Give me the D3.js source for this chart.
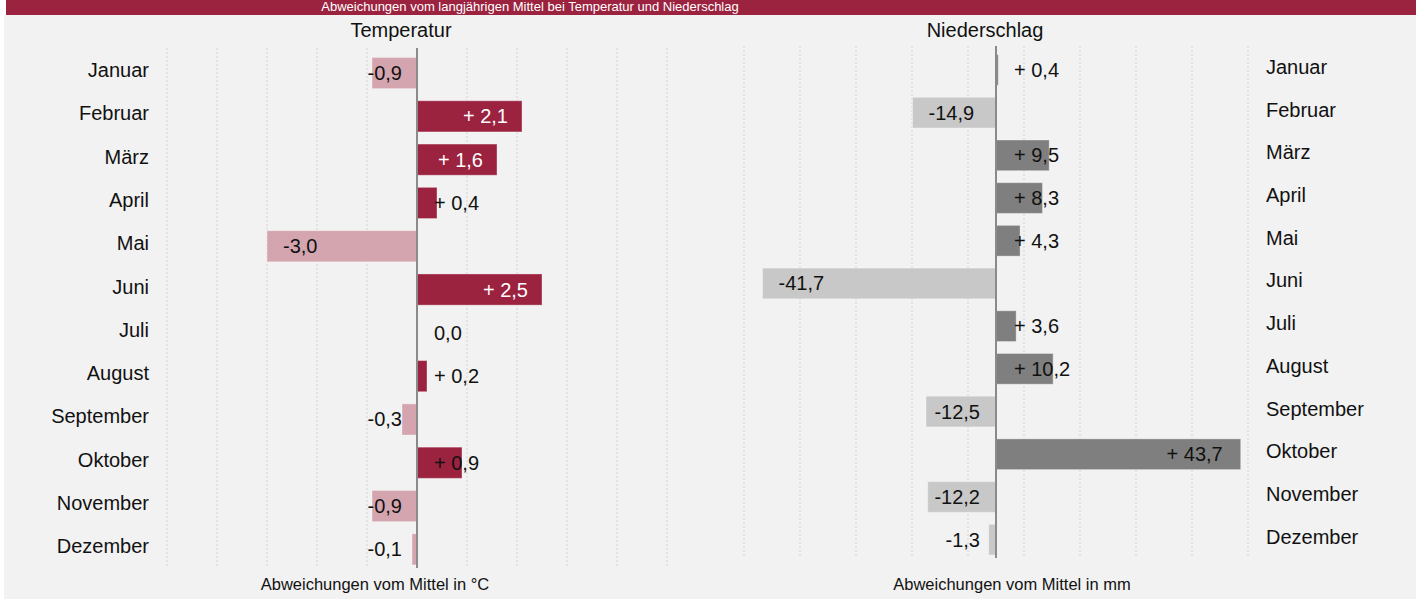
<!DOCTYPE html>
<html>
<head>
<meta charset="utf-8">
<script src="https://cdn.jsdelivr.net/npm/d3@7"></script>
<style>
  body { margin: 0; background: #fff; }
  svg { display: block; font-family: "Liberation Sans", Arial, sans-serif; }
</style>
</head>
<body>
<div id="chart"></div>
<script>
// data
var months = ["Januar", "Februar", "März", "April", "Mai", "Juni", "Juli", "August", "September", "Oktober", "November", "Dezember"];
var temperatur = [-0.9, 2.1, 1.6, 0.4, -3.0, 2.5, 0.0, 0.2, -0.3, 0.9, -0.9, -0.1];
var niederschlag = [0.4, -14.9, 9.5, 8.3, 4.3, -41.7, 3.6, 10.2, -12.5, 43.7, -12.2, -1.3];
var tempTicks = [-5, -4, -3, -2, -1, 0, 1, 2, 3, 4, 5];
var rainTicks = [-45, -35, -25, -15, -5, 5, 15, 25, 35, 45];

var svgWidth = 1416;
var svgHeight = 601;

var svg = d3.select("#chart")
  .append("svg")
  .attr("width", svgWidth)
  .attr("height", svgHeight);

// background + header band
svg.append("rect")
  .attr("x", 4).attr("y", 15)
  .attr("width", svgWidth - 4).attr("height", 584)
  .attr("fill", "#f2f2f2");

svg.append("rect")
  .attr("x", 6).attr("y", 0)
  .attr("width", svgWidth - 6).attr("height", 15)
  .attr("fill", "#9b2340");

// header title (top of it is cut off in the original as well)
svg.append("text")
  .attr("x", 530).attr("y", 11)
  .attr("text-anchor", "middle")
  .attr("font-size", 13)
  .attr("fill", "#fff")
  .text("Abweichungen vom langjährigen Mittel bei Temperatur und Niederschlag");

function fmt(v) {
  var s = Math.abs(v).toFixed(1).replace(".", ",");
  if (v > 0) return "+ " + s;
  if (v < 0) return "-" + s;
  return s;
}

// draws one of the two panels
function panel(opts) {
  var x = d3.scaleLinear().domain(opts.domain).range(opts.xRange);
  var y = d3.scaleBand().domain(months).range(opts.yRange)
    .paddingInner(0.28).paddingOuter(0.14);
  var zero = x(0);
  var g = svg.append("g");

  // dotted grid
  g.selectAll(".grid")
    .data(opts.ticks.filter(t => t !== 0))
    .enter()
    .append("line")
    .attr("x1", d => x(d)).attr("x2", d => x(d))
    .attr("y1", opts.gridY[0]).attr("y2", opts.gridY[1])
    .attr("stroke", "#d2d2d2")
    .attr("stroke-width", 1)
    .attr("stroke-dasharray", "2,2");

  // bars
  g.selectAll(".bar")
    .data(opts.values)
    .enter()
    .append("rect")
    .attr("x", d => Math.min(x(d), zero))
    .attr("y", (d, i) => y(months[i]))
    .attr("width", d => Math.abs(x(d) - zero))
    .attr("height", y.bandwidth())
    .attr("fill", d => d >= 0 ? opts.posColor : opts.negColor)
    .attr("stroke", d => d === 0 ? "none" : "rgba(255,255,255,0.35)")
    .attr("stroke-width", 1);

  // zero line
  g.append("line")
    .attr("x1", zero).attr("x2", zero)
    .attr("y1", opts.gridY[0]).attr("y2", opts.gridY[1] + 1)
    .attr("stroke", "#8a8a8a")
    .attr("stroke-width", 2);

  // value labels
  g.selectAll(".val")
    .data(opts.values)
    .enter()
    .append("text")
    .attr("y", (d, i) => y(months[i]) + y.bandwidth() / 2)
    .attr("dy", "0.35em")
    .attr("font-size", 20)
    .text(d => fmt(d))
    .each(function(d) {
      var t = d3.select(this);
      var w = this.getComputedTextLength();
      var end = x(d);
      if (d >= 0) {
        var right = Math.max(end - opts.posPad, zero + opts.posMin + w);
        t.attr("x", right - w);
        var inside = opts.whiteInside && (end - opts.posPad - w >= zero + 14);
        t.attr("fill", inside ? "#fff" : "#111");
      } else {
        var left = Math.min(end + 16, zero - opts.negMin - w);
        t.attr("x", left).attr("fill", "#111");
      }
    });

  // month labels
  g.selectAll(".month")
    .data(months)
    .enter()
    .append("text")
    .attr("x", opts.labelX)
    .attr("y", d => y(d) + y.bandwidth() / 2 - 3)
    .attr("dy", "0.35em")
    .attr("text-anchor", opts.labelAnchor)
    .attr("font-size", 20)
    .attr("fill", "#111")
    .text(d => d);

  // panel title
  g.append("text")
    .attr("x", opts.titleX).attr("y", 37)
    .attr("text-anchor", "middle")
    .attr("font-size", 20)
    .attr("fill", "#111")
    .text(opts.title);

  // axis title
  g.append("text")
    .attr("x", opts.axisX).attr("y", 590)
    .attr("text-anchor", "middle")
    .attr("font-size", 16.5)
    .attr("fill", "#111")
    .text(opts.axisTitle);
}

panel({
  values: temperatur,
  domain: [-5, 5],
  xRange: [167, 667],
  yRange: [51.4, 571],
  gridY: [48, 567],
  ticks: tempTicks,
  posColor: "#9b2340",
  negColor: "#d4a5ae",
  posPad: 14, posMin: 17, negMin: 15,
  whiteInside: true,
  labelX: 149, labelAnchor: "end",
  title: "Temperatur", titleX: 401,
  axisTitle: "Abweichungen vom Mittel in °C", axisX: 375
});

panel({
  values: niederschlag,
  domain: [-45, 45],
  xRange: [744, 1248],
  yRange: [48.6, 561],
  gridY: [46, 557],
  ticks: rainTicks,
  posColor: "#7f7f7f",
  negColor: "#c8c8c8",
  posPad: 18, posMin: 18, negMin: 16,
  whiteInside: false,
  labelX: 1266, labelAnchor: "start",
  title: "Niederschlag", titleX: 985,
  axisTitle: "Abweichungen vom Mittel in mm", axisX: 1012
});
</script>
</body>
</html>
